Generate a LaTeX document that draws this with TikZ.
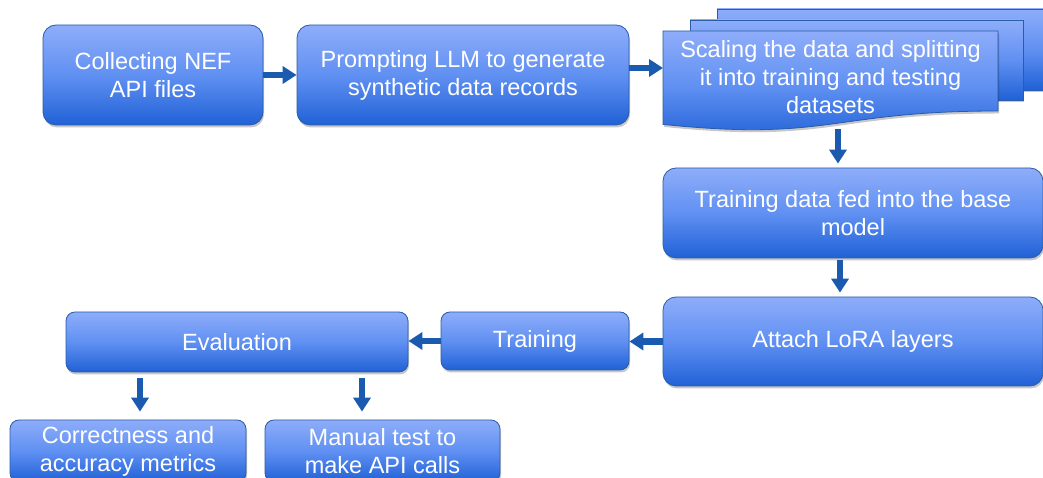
\documentclass[tikz,border=0pt]{standalone}
\usepackage{fontspec}
\setmainfont{Liberation Sans}
\usetikzlibrary{arrows.meta,shadows}

\definecolor{boxtop}{RGB}{142,173,250}
\definecolor{boxmid}{RGB}{96,144,242}
\definecolor{boxbot}{RGB}{32,97,214}
\definecolor{boxline}{RGB}{42,92,168}
\definecolor{flowblue}{RGB}{26,91,176}

\tikzset{
  bluefill/.style={draw=boxline, line width=0.8pt,
    top color=boxtop, bottom color=boxbot, middle color=boxmid},
  softshadow/.style={drop shadow={shadow xshift=1pt, shadow yshift=-2.5pt,
    opacity=0.22, fill=black}},
  stage/.style={bluefill, softshadow, rounded corners=13pt,
    text=white, align=center, inner sep=0pt,
    font=\fontsize{23.5}{28}\selectfont},
  smallstage/.style={stage, rounded corners=9pt},
  label/.style={text=white, align=center, inner sep=0pt,
    font=\fontsize{23.5}{28}\selectfont},
  sheet/.style={bluefill, softshadow},
  flow/.style={draw=flowblue, line width=6.5pt,
    -{Triangle[width=17pt,length=14pt]}},
}

\begin{document}
\begin{tikzpicture}[x=1pt, y=1pt]
  \useasboundingbox (0,0) rectangle (1043,478);
  \clip (0,0) rectangle (1043,478);

  % top row
  \node[stage, minimum width=220pt, minimum height=100pt] (collect) at (153,403)
    {Collecting NEF\\API files};
  \node[stage, minimum width=332pt, minimum height=100pt] (prompt) at (463,403)
    {Prompting LLM to generate\\synthetic data records};

  % stacked document sheets
  \path[sheet] (717,469) rectangle (1070,388);
  \path[sheet] (690,458) rectangle (1023,378);
  \path[sheet] (663,447) -- (998,447) -- (998,367)
    .. controls (830.5,367) and (830.5,336.25) .. (663,353.6) -- cycle;
  \node[label] (split) at (830.5,401)
    {Scaling the data and splitting\\it into training and testing\\datasets};
  \coordinate (splitin) at (663,410);
  \coordinate (splitout) at (838,349);

  % right column
  \node[stage, minimum width=380pt, minimum height=90pt] (feed) at (853,265)
    {Training data fed into the base\\model};
  \node[stage, minimum width=380pt, minimum height=89pt] (lora) at (853,136.5)
    {Attach LoRA layers};

  % middle row
  \node[smallstage, minimum width=188pt, minimum height=58pt] (training) at (535,137)
    {Training};
  \node[smallstage, minimum width=342pt, minimum height=60pt] (eval) at (237,136)
    {Evaluation};

  % bottom row
  \node[smallstage, minimum width=236pt, minimum height=62pt] (metrics) at (128,27)
    {Correctness and\\accuracy metrics};
  \node[smallstage, minimum width=235pt, minimum height=62pt] (manual) at (382.5,27)
    {Manual test to\\make API calls};

  % connectors
  \draw[flow] (collect.east) -- (prompt.west);
  \draw[flow] (prompt.east |- splitin) -- (splitin);
  \draw[flow, shorten >=4pt] (splitout) -- (splitout |- feed.north);
  \draw[flow, shorten <=2pt, shorten >=4pt]
    ([xshift=-13pt]feed.south) -- ([xshift=-13pt]lora.north);
  \draw[flow] (lora.west) -- (training.east |- lora.west);
  \draw[flow] (training.west) -- (eval.east |- training.west);
  \draw[flow, shorten <=6pt, shorten >=8pt]
    ([xshift=-97pt]eval.south) -- ([xshift=12pt]metrics.north);
  \draw[flow, shorten <=6pt, shorten >=8pt]
    ([xshift=125pt]eval.south) -- ([xshift=-20.5pt]manual.north);
\end{tikzpicture}
\end{document}
